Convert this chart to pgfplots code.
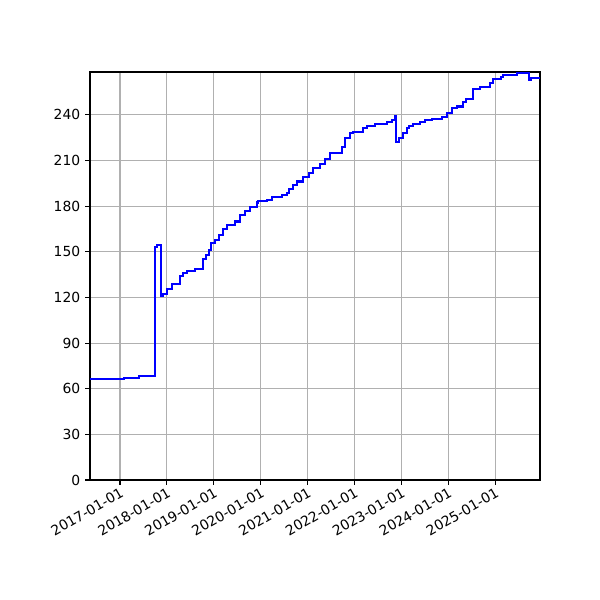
\documentclass[border=0pt]{standalone}
\usepackage{pgfplots}
\pgfplotsset{compat=1.18}
\usepackage{fontspec}
\setmainfont{DejaVu Sans}
\begin{document}
\begin{tikzpicture}
\begin{axis}[
    scale only axis,
    width=324pt, height=293.76pt,
    xmin=2016.360, xmax=2025.955,
    ymin=0, ymax=268.2,
    xtick={2017,2018,2019,2020,2021,2022,2023,2024,2025},
    xticklabels={2017-01-01,2018-01-01,2019-01-01,2020-01-01,2021-01-01,2022-01-01,2023-01-01,2024-01-01,2025-01-01},
    ytick={0,30,60,90,120,150,180,210,240},
    xticklabel style={rotate=30, anchor=north east, inner sep=1pt},
    grid=major,
    grid style={color=black!31, line width=0.8pt},
    axis line style={line width=0.8pt},
    tick style={black, line width=0.8pt},
    tick align=outside, major tick length=3.5pt,
    xtick pos=bottom, ytick pos=left,
    tick label style={font=\fontsize{10}{12}\selectfont},
    /pgf/number format/assume math mode=true,
  ]
\addplot[const plot, color=blue, line width=1.5pt] coordinates {
(2016.360,66.2) (2017.085,67.3) (2017.405,68.6) (2017.746,153.4)
(2017.780,154.3) (2017.874,121) (2017.924,122.3) (2018.009,125.4)
(2018.109,128.9) (2018.279,134.1) (2018.350,135.9) (2018.422,137.6)
(2018.599,138.5) (2018.763,145.1) (2018.834,147.9) (2018.891,151.2)
(2018.933,155.6) (2019.026,157.8) (2019.118,161.1) (2019.190,164.8)
(2019.288,167.7) (2019.452,169.9) (2019.559,174.2) (2019.665,177.1)
(2019.772,179.3) (2019.915,182.4) (2019.949,183.6) (2020.128,184.1)
(2020.235,186.3) (2020.447,187.4) (2020.554,188.9) (2020.610,191.3)
(2020.695,194.0) (2020.768,196.2) (2020.908,199.0) (2021.036,201.6)
(2021.122,205.3) (2021.264,207.8) (2021.371,210.8) (2021.478,214.8)
(2021.727,219.1) (2021.797,224.6) (2021.904,228.0) (2021.975,228.6)
(2022.188,231.2) (2022.260,232.9) (2022.437,234.1) (2022.686,235.6)
(2022.793,236.7) (2022.864,239.5) (2022.885,222.0) (2022.955,224.6)
(2023.041,228.0) (2023.113,231.2) (2023.169,232.9) (2023.254,233.8)
(2023.397,235.2) (2023.503,236.5) (2023.646,237.3) (2023.859,238.9)
(2023.966,241.5) (2024.072,244.4) (2024.179,245.5) (2024.320,248.7)
(2024.377,250.5) (2024.533,257.1) (2024.676,258.6) (2024.889,260.8)
(2024.960,263.6) (2025.117,265.2) (2025.173,266.3) (2025.456,267.4)
(2025.725,263.0) (2025.763,264.5) (2025.955,264.5)
};
\end{axis}
\path ([shift={(-64.8pt,-86.4pt)}]current axis.south west) rectangle ([shift={(43.2pt,51.84pt)}]current axis.north east);
\end{tikzpicture}
\end{document}
